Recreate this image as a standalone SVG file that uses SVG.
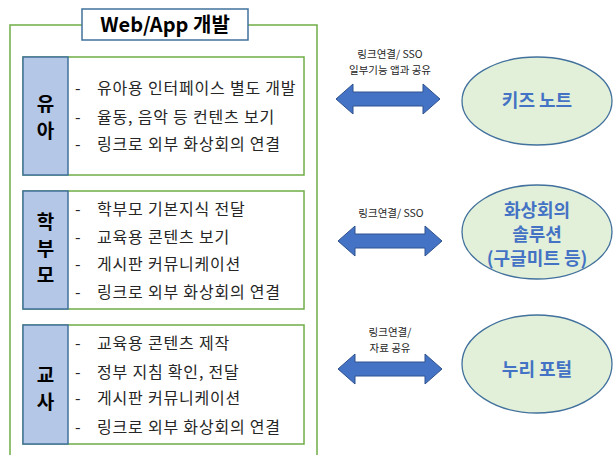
<svg xmlns="http://www.w3.org/2000/svg" width="614" height="455" viewBox="0 0 614 455">
<defs>
<style>
.frame{fill:#fff;stroke:#70AD47;stroke-width:1.5}
.panel{fill:#fff;stroke:#70AD47;stroke-width:1.5}
.lab{fill:#B4C7E7;stroke:#41719C;stroke-width:1.5}
.labt{font-family:"Noto Sans CJK KR","Noto Sans",sans-serif;font-size:19px;font-weight:bold;fill:#000;text-anchor:middle}
.item{font-family:"Noto Sans CJK KR","Noto Sans",sans-serif;font-size:16px;letter-spacing:0.8px;fill:#262626}
.ell{fill:#E2F0D9;stroke:#41719C;stroke-width:1.3}
.ellt{font-family:"Noto Sans CJK KR","Noto Sans",sans-serif;font-size:18px;font-weight:bold;fill:#4472C4;text-anchor:middle}
.arr{fill:#4472C4;stroke:#2F528F;stroke-width:1}
.arrt{font-family:"Noto Sans CJK KR","Noto Sans",sans-serif;font-size:10.5px;fill:#262626;text-anchor:middle}
</style>
</defs>
<rect width="614" height="455" fill="#fff"/>
<g id="frame">
<path class="frame" d="M10,460 V25 H317 V460"/>
</g>
<g id="title">
<rect x="82" y="9" width="166" height="31" fill="#fff" stroke="#41719C" stroke-width="1.5"/>
<text x="165" y="32" font-family="'Noto Sans CJK KR','Noto Sans',sans-serif" font-size="20" font-weight="bold" text-anchor="middle" fill="#000">Web/App 개발</text>
</g>
<g id="panel-yua">
<rect class="panel" x="23" y="57" width="281" height="118"/>
<rect class="lab" x="23" y="57" width="45" height="118"/>
<text class="labt" x="45.5" y="111">유</text>
<text class="labt" x="45.5" y="138">아</text>
<text class="item" x="75" y="94">-</text><text class="item" x="97" y="94">유아용 인터페이스 별도 개발</text>
<text class="item" x="75" y="123">-</text><text class="item" x="97" y="123">율동, 음악 등 컨텐츠 보기</text>
<text class="item" x="75" y="150">-</text><text class="item" x="97" y="150">링크로 외부 화상회의 연결</text>
</g>
<g id="panel-parent">
<rect class="panel" x="23" y="191" width="281" height="118"/>
<rect class="lab" x="23" y="191" width="45" height="118"/>
<text class="labt" x="45.5" y="229">학</text>
<text class="labt" x="45.5" y="256">부</text>
<text class="labt" x="45.5" y="282">모</text>
<text class="item" x="75" y="215">-</text><text class="item" x="97" y="215">학부모 기본지식 전달</text>
<text class="item" x="75" y="243">-</text><text class="item" x="97" y="243">교육용 콘텐츠 보기</text>
<text class="item" x="75" y="270">-</text><text class="item" x="97" y="270">게시판 커뮤니케이션</text>
<text class="item" x="75" y="298">-</text><text class="item" x="97" y="298">링크로 외부 화상회의 연결</text>
</g>
<g id="panel-teacher">
<rect class="panel" x="23" y="325" width="281" height="119"/>
<rect class="lab" x="23" y="325" width="45" height="119"/>
<text class="labt" x="45.5" y="382">교</text>
<text class="labt" x="45.5" y="409">사</text>
<text class="item" x="75" y="349">-</text><text class="item" x="97" y="349">교육용 콘텐츠 제작</text>
<text class="item" x="75" y="378">-</text><text class="item" x="97" y="378">정부 지침 확인, 전달</text>
<text class="item" x="75" y="404">-</text><text class="item" x="97" y="404">게시판 커뮤니케이션</text>
<text class="item" x="75" y="433">-</text><text class="item" x="97" y="433">링크로 외부 화상회의 연결</text>
</g>
<g id="connectors">
<path class="arr" d="M336,99 L353,84 V92 H423 V84 L440,99 L423,114 V106 H353 V114 Z"/>
<text class="arrt" x="390" y="58">링크연결/ SSO</text>
<text class="arrt" x="390" y="74">일부기능 앱과 공유</text>
<path class="arr" d="M338,241 L355,226 V234 H425 V226 L442,241 L425,256 V248 H355 V256 Z"/>
<text class="arrt" x="391" y="217">링크연결/ SSO</text>
<path class="arr" d="M338,369 L355,354 V362 H425 V354 L442,369 L425,384 V376 H355 V384 Z"/>
<text class="arrt" x="390" y="336">링크연결/</text>
<text class="arrt" x="390" y="352">자료 공유</text>
</g>
<g id="node-kids">
<ellipse class="ell" cx="537" cy="101" rx="75" ry="44"/>
<text class="ellt" x="537" y="107">키즈 노트</text>
</g>
<g id="node-video">
<ellipse class="ell" cx="537" cy="232" rx="75" ry="47"/>
<text class="ellt" x="537" y="217">화상회의</text>
<text class="ellt" x="537" y="241">솔루션</text>
<text class="ellt" x="537" y="265">(구글미트 등)</text>
</g>
<g id="node-nuri">
<ellipse class="ell" cx="537" cy="364" rx="75" ry="49"/>
<text class="ellt" x="537" y="376">누리 포털</text>
</g>
</svg>
